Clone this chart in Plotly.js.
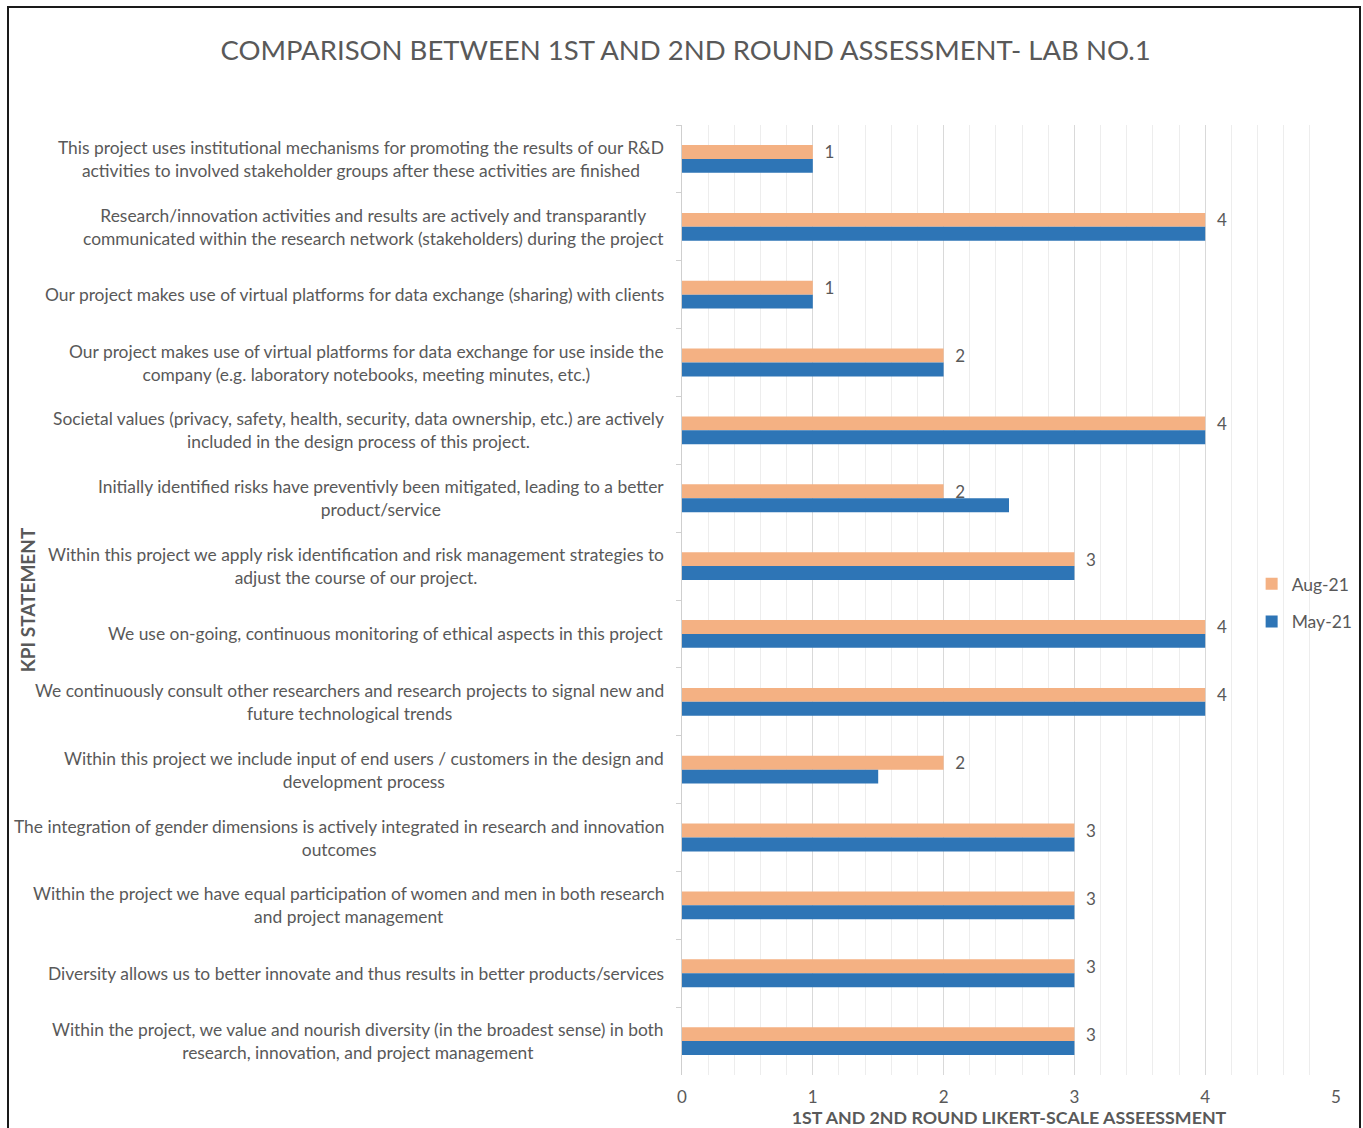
<!DOCTYPE html>
<html>
<head>
<meta charset="utf-8">
<script src="https://cdn.plot.ly/plotly-3.0.1.min.js"></script>
<style>
  html, body { margin: 0; padding: 0; background: #fff; }
  #chart { width: 1363px; height: 1128px; }
  #frame { position: absolute; left: 7px; top: 6px; width: 1350px; height: 1140px;
           border: 2px solid #1a1a1a; pointer-events: none; }
</style>
</head>
<body>
<div id="chart"></div>
<div id="frame"></div>
<script>
const categories = [
  "This project uses institutional mechanisms for promoting the results of our R&amp;D<br>activities to involved stakeholder groups after these activities are finished",
  "Research/innovation activities and results are actively and transparantly<br>communicated within the research network (stakeholders) during the project",
  "Our project makes use of virtual platforms for data exchange (sharing) with clients",
  "Our project makes use of virtual platforms for data exchange for use inside the<br>company (e.g. laboratory notebooks, meeting minutes, etc.)",
  "Societal values (privacy, safety, health, security, data ownership, etc.) are actively<br>included in the design process of this project.",
  "Initially identified risks have preventivly been mitigated, leading to a better<br>product/service",
  "Within this project we apply risk identification and risk management strategies to<br>adjust the course of our project.",
  "We use on-going, continuous monitoring of ethical aspects in this project",
  "We continuously consult other researchers and research projects to signal new and<br>future technological trends",
  "Within this project we include input of end users / customers in the design and<br>development process",
  "The integration of gender dimensions is actively integrated in research and innovation<br>outcomes",
  "Within the project we have equal participation of women and men in both research<br>and project management",
  "Diversity allows us to better innovate and thus results in better products/services",
  "Within the project, we value and nourish diversity (in the broadest sense) in both<br>research, innovation, and project management"
];
const aug21 = [1, 4, 1, 2, 4, 2, 3, 4, 4, 2, 3, 3, 3, 3];
const may21 = [1, 4, 1, 2, 4, 2.5, 3, 4, 4, 1.5, 3, 3, 3, 3];
const seriesNames = ["Aug-21", "May-21"];
const xTicks = [0, 1, 2, 3, 4, 5];

const FONT = "Lato, 'Liberation Sans', sans-serif";
const GREY = "#595959";

const traces = [
  {
    type: "bar", orientation: "h", name: seriesNames[0], legendgroup: "a",
    y: categories, x: aug21,
    marker: { color: "#F4B183" },
    text: aug21.map(String),
    texttemplate: "\u00a0\u00a0%{text}",
    textposition: "outside",
    constraintext: "none",
    cliponaxis: false,
    textfont: { family: FONT, size: 17, color: GREY }
  },
  {
    type: "bar", orientation: "h", name: seriesNames[1], legendgroup: "b",
    y: categories, x: may21,
    marker: { color: "#2E75B6" },
    textposition: "none"
  }
];

const annotations = categories.map(c => ({
  xref: "paper", yref: "y", x: 0, y: c,
  xanchor: "right", yanchor: "middle", xshift: -16,
  text: c, align: "center", showarrow: false,
  font: { family: FONT, size: 17.4, color: GREY }
}));

const layout = {
  width: 1363, height: 1128,
  margin: { l: 682, r: 27, t: 125, b: 53, autoexpand: false },
  paper_bgcolor: "#ffffff", plot_bgcolor: "#ffffff",
  font: { family: FONT, color: GREY, size: 17 },
  title: {
    text: "COMPARISON BETWEEN 1ST AND 2ND ROUND ASSESSMENT- LAB NO.1",
    font: { family: FONT, size: 27.5, color: GREY },
    x: 0.503, xanchor: "center", y: 0.955, yanchor: "middle"
  },
  barmode: "group",
  bargap: 0.59,
  bargroupgap: 0,
  showlegend: true,
  legend: {
    x: 0.871, y: 0.497, xanchor: "left", yanchor: "middle",
    bgcolor: "rgba(0,0,0,0)", font: { family: FONT, size: 17.5, color: GREY },
    tracegroupgap: 12, itemsizing: "constant", itemwidth: 30
  },
  xaxis: {
    range: [0, 5], tickvals: xTicks, ticktext: xTicks.map(String),
    automargin: false,
    showgrid: true, gridcolor: "#d9d9d9", gridwidth: 1,
    minor: { dtick: 0.2, showgrid: true, gridcolor: "#ededed", gridwidth: 1 },
    zeroline: false, showline: false, ticks: "",
    ticklabelstandoff: 10,
    tickfont: { family: FONT, size: 17, color: GREY },
    title: { text: "<b>1ST AND 2ND ROUND LIKERT-SCALE ASSEESSMENT</b>",
             font: { family: FONT, size: 17.8, color: GREY }, standoff: 0 },
    fixedrange: true
  },
  yaxis: {
    type: "category", autorange: "reversed", automargin: false,
    showticklabels: false, showgrid: false, zeroline: false,
    showline: true, linecolor: "#cfcfcf", linewidth: 1,
    ticks: "outside", tickson: "boundaries", ticklen: 5, tickcolor: "#cfcfcf",
    title: { text: "<b>KPI STATEMENT</b>", font: { family: FONT, size: 19, color: GREY }, standoff: 640 },
    fixedrange: true
  },
  annotations: annotations
};

Plotly.newPlot("chart", traces, layout, { displayModeBar: false, staticPlot: true });
</script>
</body>
</html>
